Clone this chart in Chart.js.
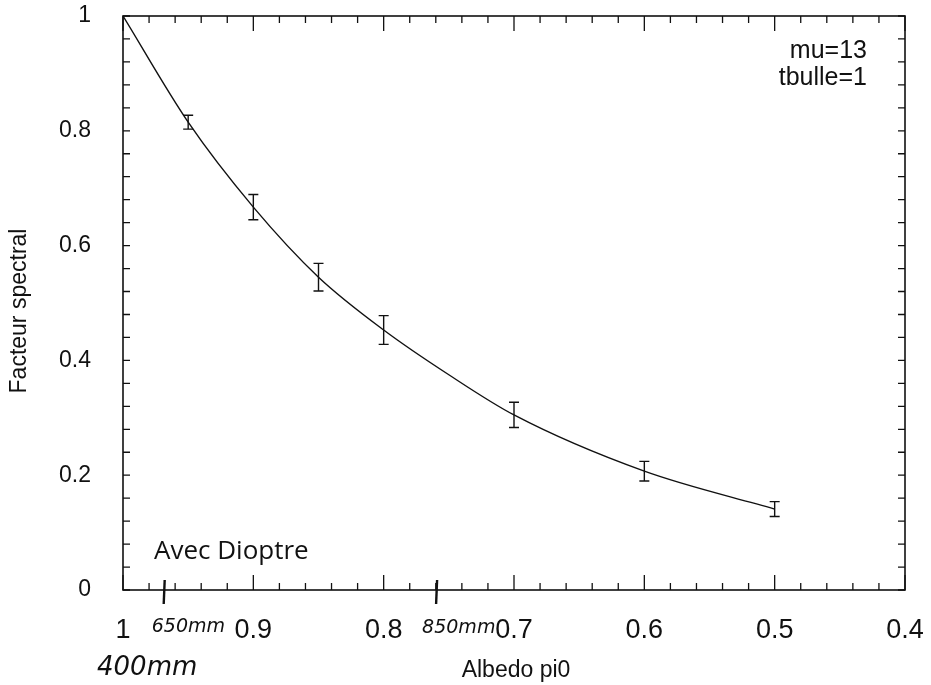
<!DOCTYPE html>
<html>
<head>
<meta charset="utf-8">
<script src="https://cdn.jsdelivr.net/npm/chart.js@4"></script>
<style>
  html, body { margin: 0; padding: 0; background: #fff; }
  #wrap { width: 931px; height: 685px; }
</style>
</head>
<body>
<div id="wrap"><canvas id="c" width="931" height="685"></canvas></div>
<script>
const albedo = [0.95, 0.9, 0.85, 0.8, 0.7, 0.6, 0.5];
const facteur = [0.815, 0.667, 0.545, 0.453, 0.305, 0.207, 0.141];
const erreur = [0.012, 0.022, 0.024, 0.025, 0.022, 0.017, 0.013];
const curveX = [1, 0.95, 0.9, 0.85, 0.8, 0.75, 0.7, 0.6, 0.5];
const curveY = [1, 0.815, 0.667, 0.545, 0.453, 0.375, 0.305, 0.207, 0.141];
const xTickLabels = [1, 0.9, 0.8, 0.7, 0.6, 0.5, 0.4];
const yTickLabels = [0, 0.2, 0.4, 0.6, 0.8, 1];
const notes = ['mu=13', 'tbulle=1'];
const wavelengths = [
    { text: '650mm', x: 0.968 },
    { text: '850mm', x: 0.759 }
];

const INK = '#111';
const SANS = '"Liberation Sans", Arial, sans-serif';
const HAND = 'italic 19px "DejaVu Sans", sans-serif';

// inward ticks on all four sides, error bars, text notes
const decor = {
    id: 'decor',
    afterDatasetsDraw(chart) {
        const { ctx, chartArea: a, scales: { x, y } } = chart;
        ctx.save();
        ctx.strokeStyle = INK;
        ctx.lineWidth = 1.6;
        ctx.strokeRect(a.left, a.top, a.right - a.left, a.bottom - a.top);

        ctx.lineWidth = 1.3;
        for (let i = 0; i <= 30; i++) {
            const px = x.getPixelForValue(1 - i * 0.02);
            const len = i % 5 === 0 ? 15 : 7;
            ctx.beginPath();
            ctx.moveTo(px, a.bottom); ctx.lineTo(px, a.bottom - len);
            ctx.moveTo(px, a.top); ctx.lineTo(px, a.top + len);
            ctx.stroke();
        }
        for (let i = 0; i <= 25; i++) {
            const py = y.getPixelForValue(i * 0.04);
            ctx.beginPath();
            ctx.moveTo(a.left, py); ctx.lineTo(a.left + 7, py);
            ctx.moveTo(a.right, py); ctx.lineTo(a.right - 7, py);
            ctx.stroke();
        }

        // error bars
        ctx.lineWidth = 1.4;
        albedo.forEach((v, i) => {
            const px = x.getPixelForValue(v);
            const lo = y.getPixelForValue(facteur[i] - erreur[i]);
            const hi = y.getPixelForValue(facteur[i] + erreur[i]);
            ctx.beginPath();
            ctx.moveTo(px, lo); ctx.lineTo(px, hi);
            ctx.moveTo(px - 5, lo); ctx.lineTo(px + 5, lo);
            ctx.moveTo(px - 5, hi); ctx.lineTo(px + 5, hi);
            ctx.stroke();
        });

        ctx.fillStyle = INK;
        ctx.font = '25px ' + SANS;
        ctx.textAlign = 'right';
        ctx.textBaseline = 'middle';
        ctx.fillText(notes[0], a.right - 38, a.top + 35);
        ctx.fillText(notes[1], a.right - 38, a.top + 62);

        ctx.textAlign = 'left';
        ctx.font = '26px "Open Sans", sans-serif';
        ctx.fillText('Avec Dioptre', a.left + 31, a.bottom - 38);

        // axis titles
        ctx.textAlign = 'center';
        ctx.font = '23px ' + SANS;
        ctx.fillText('Albedo pi0', 516, 671);
        ctx.save();
        ctx.translate(20, 311);
        ctx.rotate(-Math.PI / 2);
        ctx.fillText('Facteur spectral', 0, 0);
        ctx.restore();

        // handwritten wavelength marks
        ctx.lineWidth = 2.4;
        wavelengths.forEach(w => {
            const px = x.getPixelForValue(w.x);
            ctx.beginPath();
            ctx.moveTo(px, a.bottom - 10); ctx.lineTo(px - 1, a.bottom + 14);
            ctx.stroke();
        });
        ctx.textAlign = 'left';
        ctx.textBaseline = 'alphabetic';
        ctx.font = HAND;
        ctx.fillText(wavelengths[0].text, x.getPixelForValue(wavelengths[0].x) - 13, a.bottom + 42);
        ctx.fillText(wavelengths[1].text, x.getPixelForValue(wavelengths[1].x) - 15, a.bottom + 43);
        ctx.font = 'italic 26px "DejaVu Sans", sans-serif';
        ctx.fillText('400mm', 97, a.bottom + 85);
        ctx.restore();
    }
};

new Chart(document.getElementById('c'), {
    type: 'scatter',
    data: {
        datasets: [{
            data: curveX.map((v, i) => ({ x: v, y: curveY[i] })),
            showLine: true,
            borderColor: INK,
            borderWidth: 1.4,
            pointRadius: 0,
            cubicInterpolationMode: 'monotone'
        }]
    },
    options: {
        responsive: false,
        animation: false,
        layout: { padding: { top: 16, right: 26, left: 0, bottom: 0 } },
        plugins: { legend: { display: false }, tooltip: { enabled: false } },
        scales: {
            x: {
                type: 'linear',
                reverse: true,
                min: 0.4, max: 1,
                afterFit: s => { s.height = 95; s.paddingLeft = 0; s.paddingRight = 0; },
                afterBuildTicks: s => { s.ticks = xTickLabels.map(v => ({ value: v })); },
                grid: { display: false, drawTicks: false },
                border: { display: false },
                ticks: {
                    color: INK,
                    padding: 24,
                    maxRotation: 0,
                    font: { family: SANS, size: 27 },
                    callback: v => String(Math.round(v * 10) / 10)
                }
            },
            y: {
                min: 0, max: 1,
                afterFit: s => { s.width = 123; s.paddingTop = 0; s.paddingBottom = 0; },
                afterBuildTicks: s => { s.ticks = yTickLabels.map(v => ({ value: v })); },
                grid: { display: false, drawTicks: false },
                border: { display: false },
                ticks: {
                    color: INK,
                    padding: 32,
                    font: { family: SANS, size: 23 },
                    callback: v => String(Math.round(v * 10) / 10)
                }
            }
        }
    },
    plugins: [decor]
});
</script>
</body>
</html>
